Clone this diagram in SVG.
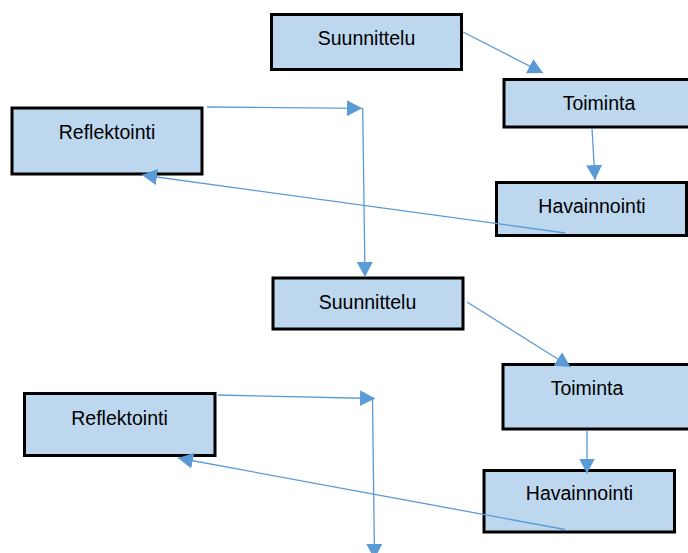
<svg xmlns="http://www.w3.org/2000/svg" width="688" height="553" viewBox="0 0 688 553">
  <style>
    .box { fill: #bdd7ee; stroke: #000000; stroke-width: 3; }
    .lbl { font-family: "Liberation Sans", Arial, sans-serif; font-size: 19.5px; fill: #000000; text-anchor: middle; }
    .conn { fill: none; stroke: #5b9bd5; stroke-width: 1.3; marker-end: url(#arrow); }
  </style>
  <defs>
    <marker id="arrow" markerUnits="userSpaceOnUse" markerWidth="16" markerHeight="16" refX="15" refY="8" orient="auto">
      <path d="M0,0 L15,8 L0,16 z" fill="#5b9bd5"/>
    </marker>
  </defs>
  <rect width="688" height="553" fill="#ffffff"/>

  <!-- first cycle -->
  <g id="suunnittelu1">
    <rect class="box" x="271.5" y="14.5" width="190" height="55"/>
    <text class="lbl" x="366.5" y="45">Suunnittelu</text>
  </g>
  <g id="toiminta1">
    <rect class="box" x="504" y="79.5" width="200" height="47.5"/>
    <text class="lbl" x="599" y="110">Toiminta</text>
  </g>
  <g id="havainnointi1">
    <rect class="box" x="496.5" y="182.5" width="190" height="53"/>
    <text class="lbl" x="592" y="213">Havainnointi</text>
  </g>
  <g id="reflektointi1">
    <rect class="box" x="12" y="108" width="190" height="66"/>
    <text class="lbl" x="107" y="139">Reflektointi</text>
  </g>

  <!-- second cycle -->
  <g id="suunnittelu2">
    <rect class="box" x="273" y="278" width="190" height="51"/>
    <text class="lbl" x="367.5" y="308.5">Suunnittelu</text>
  </g>
  <g id="toiminta2">
    <rect class="box" x="503" y="364.5" width="200" height="64.5"/>
    <text class="lbl" x="587" y="395">Toiminta</text>
  </g>
  <g id="havainnointi2">
    <rect class="box" x="484" y="470.5" width="190.5" height="61.5"/>
    <text class="lbl" x="579.5" y="500">Havainnointi</text>
  </g>
  <g id="reflektointi2">
    <rect class="box" x="24.5" y="393.5" width="190.5" height="62"/>
    <text class="lbl" x="119.5" y="424.5">Reflektointi</text>
  </g>

  <g id="connectors">
    <line class="conn" x1="463" y1="32" x2="543" y2="73"/>
    <line class="conn" x1="592" y1="128" x2="595" y2="180"/>
    <line class="conn" x1="565" y1="233" x2="142" y2="175"/>
    <line class="conn" x1="207" y1="107" x2="362" y2="108.3"/>
    <line class="conn" x1="362.7" y1="108" x2="365" y2="277"/>
    <line class="conn" x1="467" y1="302" x2="570.5" y2="367"/>
    <line class="conn" x1="587" y1="430" x2="587" y2="473.5"/>
    <line class="conn" x1="565" y1="529.5" x2="178" y2="458"/>
    <line class="conn" x1="218" y1="395" x2="375" y2="398.5"/>
    <line class="conn" x1="372.5" y1="398.5" x2="374.5" y2="559"/>
  </g>
</svg>
